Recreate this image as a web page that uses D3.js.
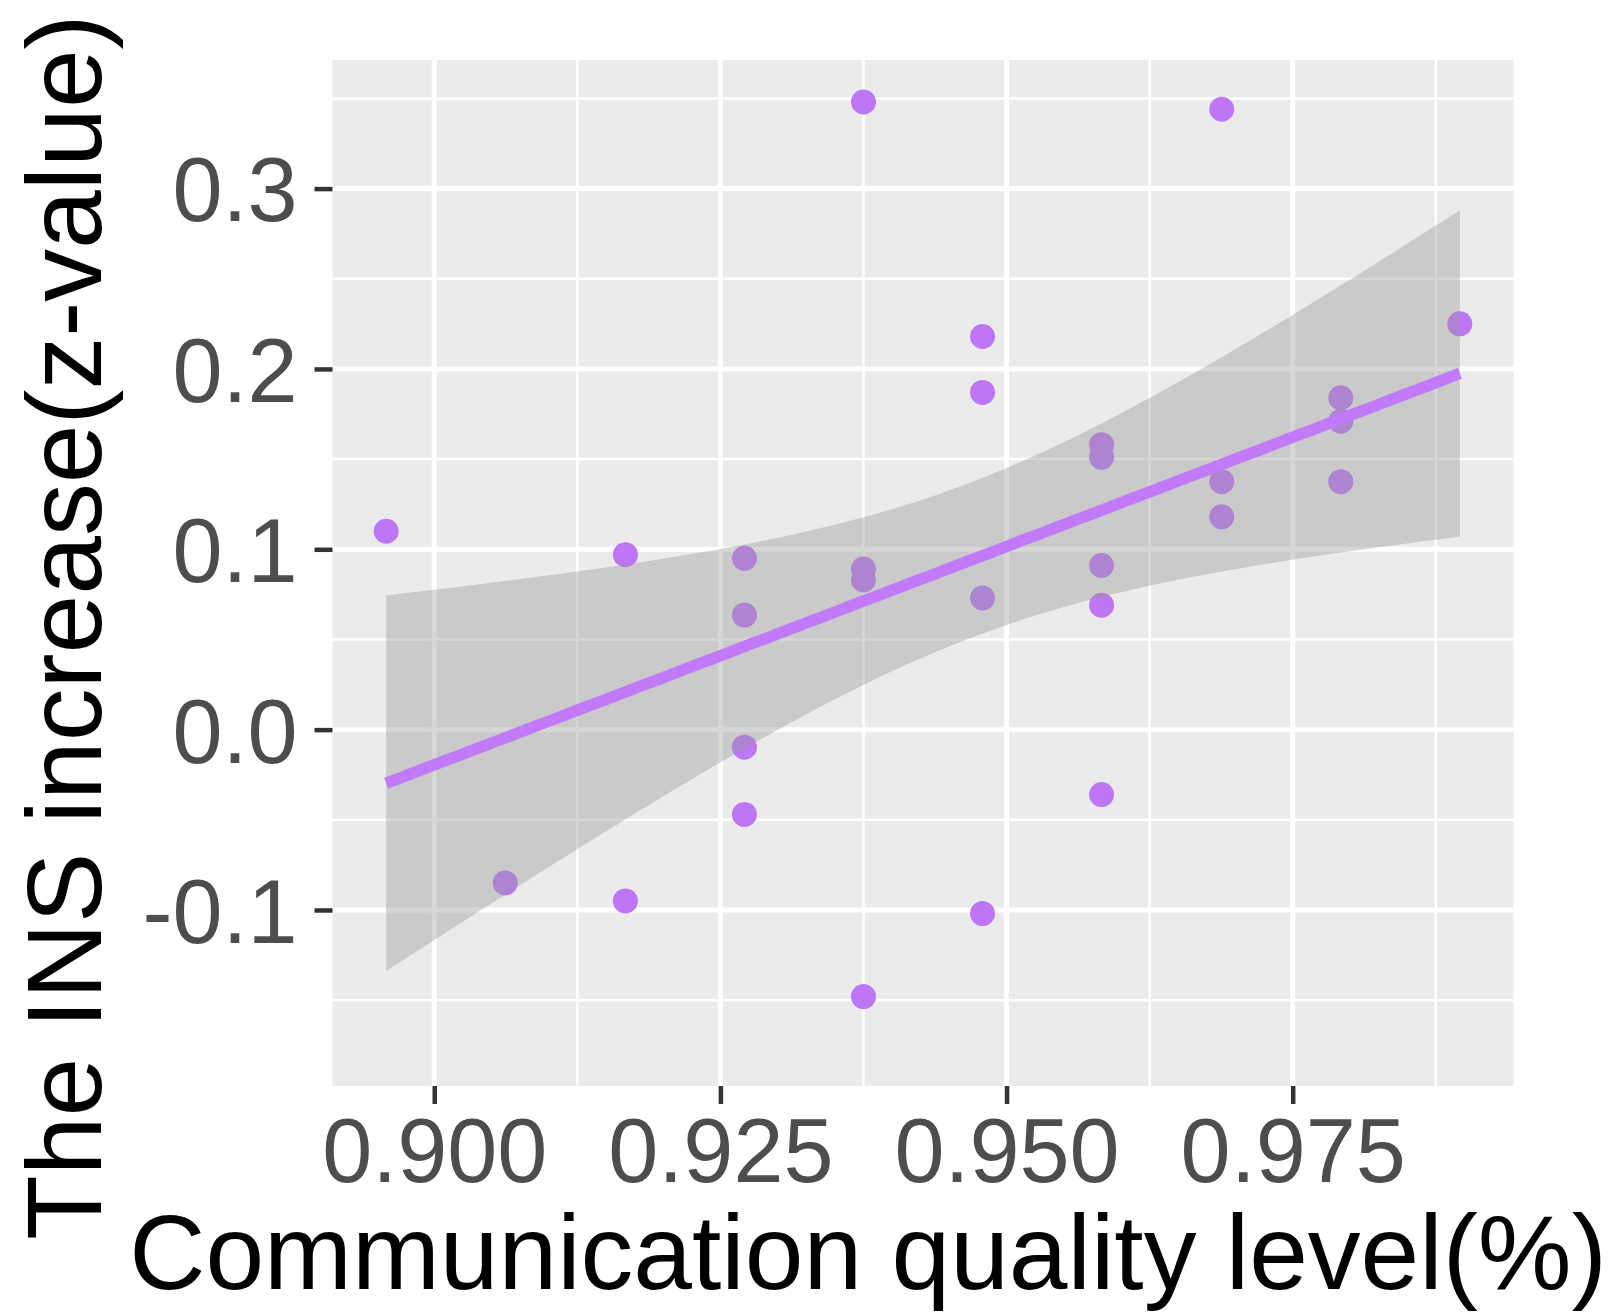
<!DOCTYPE html>
<html>
<head>
<meta charset="utf-8">
<script src="https://cdn.jsdelivr.net/npm/d3@7"></script>
<style>
    body { margin: 0; background: #fff; }
    svg { display: block; font-family: "Liberation Sans", Arial, sans-serif; }
</style>
</head>
<body>
<div id="chart"></div>
<script>
// Communication quality vs INS increase - scatter with lm fit

// Data
const quality = [
    0.8958,
    0.9062,
    0.9167, 0.9167,
    0.9271, 0.9271, 0.9271, 0.9271,
    0.9375, 0.9375, 0.9375, 0.9375,
    0.9479, 0.9479, 0.9479, 0.9479,
    0.9583, 0.9583, 0.9583, 0.9583, 0.9583,
    0.9688, 0.9688, 0.9688,
    0.9792, 0.9792, 0.9792,
    0.9896
];
const insIncrease = [
    0.110,
    -0.085,
    0.097, -0.095,
    0.095, 0.0635, -0.0097, -0.047,
    0.348, 0.089, 0.083, -0.148,
    0.218, 0.187, 0.073, -0.102,
    0.158, 0.151, 0.091, 0.069, -0.036,
    0.344, 0.1375, 0.118,
    0.184, 0.171, 0.1375,
    0.225
];

const xTicks = [0.900, 0.925, 0.950, 0.975];
const xMinor = [0.9125, 0.9375, 0.9625, 0.9875];
const yTicks = [-0.1, 0.0, 0.1, 0.2, 0.3];
const yMinor = [-0.15, -0.05, 0.05, 0.15, 0.25, 0.35];

const xTitle = 'Communication quality level(%)';
const yTitle = 'The INS increase(z-value)';

// Layout
const config = {
    width: 1623,
    height: 1315,
    panel: { left: 332.5, right: 1513.5, top: 60, bottom: 1086 },
    yDomain: [-0.1976, 0.3713],
    pointColor: '#BD76F6',
    lineColor: '#C07AFA',
    tickFont: 90,
    titleFont: 105.5,
    tCrit: 2.0555 // t quantile, 95%, df = 26
};

const svg = d3.select('#chart')
    .append('svg')
    .attr('width', config.width)
    .attr('height', config.height);

const p = config.panel;

// ggplot-style 5% expansion on x
const xExt = d3.extent(quality);
const xPad = (xExt[1] - xExt[0]) * 0.05;
const x = d3.scaleLinear()
    .domain([xExt[0] - xPad, xExt[1] + xPad])
    .range([p.left, p.right]);

const y = d3.scaleLinear()
    .domain(config.yDomain)
    .range([p.bottom, p.top]);

// Panel background
svg.append('rect')
    .attr('x', p.left)
    .attr('y', p.top)
    .attr('width', p.right - p.left)
    .attr('height', p.bottom - p.top)
    .attr('fill', '#EBEBEB');

// Grid
const grid = svg.append('g').attr('stroke', '#fff');

grid.selectAll('.ymin').data(yMinor).enter().append('line')
    .attr('x1', p.left).attr('x2', p.right)
    .attr('y1', d => y(d)).attr('y2', d => y(d))
    .attr('stroke-width', 2.5);
grid.selectAll('.xmin').data(xMinor).enter().append('line')
    .attr('y1', p.top).attr('y2', p.bottom)
    .attr('x1', d => x(d)).attr('x2', d => x(d))
    .attr('stroke-width', 2.5);
grid.selectAll('.ymaj').data(yTicks).enter().append('line')
    .attr('x1', p.left).attr('x2', p.right)
    .attr('y1', d => y(d)).attr('y2', d => y(d))
    .attr('stroke-width', 5);
grid.selectAll('.xmaj').data(xTicks).enter().append('line')
    .attr('y1', p.top).attr('y2', p.bottom)
    .attr('x1', d => x(d)).attr('x2', d => x(d))
    .attr('stroke-width', 5);

// Points
const points = quality.map((q, i) => ({ x: q, y: insIncrease[i] }));

svg.append('g')
    .selectAll('circle')
    .data(points)
    .enter().append('circle')
    .attr('cx', d => x(d.x))
    .attr('cy', d => y(d.y))
    .attr('r', 12.5)
    .attr('fill', config.pointColor);

// Linear fit with 95% confidence band (like geom_smooth(method = "lm"))
const n = points.length;
const mx = d3.mean(points, d => d.x);
const my = d3.mean(points, d => d.y);
const sxx = d3.sum(points, d => (d.x - mx) ** 2);
const sxy = d3.sum(points, d => (d.x - mx) * (d.y - my));
const slope = sxy / sxx;
const intercept = my - slope * mx;
const sse = d3.sum(points, d => (d.y - (intercept + slope * d.x)) ** 2);
const s = Math.sqrt(sse / (n - 2));

const fit = d3.range(80).map(i => {
    const xv = xExt[0] + (xExt[1] - xExt[0]) * i / 79;
    const fv = intercept + slope * xv;
    const se = s * Math.sqrt(1 / n + (xv - mx) ** 2 / sxx);
    return { x: xv, fit: fv, lo: fv - config.tCrit * se, hi: fv + config.tCrit * se };
});

svg.append('path')
    .datum(fit)
    .attr('fill', '#999999')
    .attr('fill-opacity', 0.4)
    .attr('d', d3.area()
        .x(d => x(d.x))
        .y0(d => y(d.lo))
        .y1(d => y(d.hi)));

svg.append('path')
    .datum(fit)
    .attr('fill', 'none')
    .attr('stroke', config.lineColor)
    .attr('stroke-width', 11.5)
    .attr('d', d3.line()
        .x(d => x(d.x))
        .y(d => y(d.fit)));

// Axes
const xAxis = svg.append('g')
    .attr('transform', `translate(0,${p.bottom})`)
    .call(d3.axisBottom(x)
        .tickValues(xTicks)
        .tickFormat(d3.format('.3f'))
        .tickSize(18)
        .tickPadding(14));

const yAxis = svg.append('g')
    .attr('transform', `translate(${p.left},0)`)
    .call(d3.axisLeft(y)
        .tickValues(yTicks)
        .tickFormat(d => d3.format('.1f')(d).replace('−', '-'))
        .tickSize(18)
        .tickPadding(17));

[xAxis, yAxis].forEach(ax => {
    ax.select('.domain').remove();
    ax.selectAll('.tick line')
        .attr('stroke', '#333333')
        .attr('stroke-width', 4.5);
    ax.selectAll('.tick text')
        .attr('fill', '#4D4D4D')
        .attr('font-size', config.tickFont)
        .attr('font-family', '"Liberation Sans", Arial, sans-serif');
});
yAxis.selectAll('.tick text').attr('dy', '0.36em');

// Titles
svg.append('text')
    .attr('x', 868)
    .attr('y', 1289)
    .attr('text-anchor', 'middle')
    .attr('font-size', config.titleFont)
    .attr('fill', '#000')
    .text(xTitle);

svg.append('text')
    .attr('transform', 'translate(101,627) rotate(-90)')
    .attr('text-anchor', 'middle')
    .attr('font-size', config.titleFont)
    .attr('fill', '#000')
    .text(yTitle);
</script>
</body>
</html>
